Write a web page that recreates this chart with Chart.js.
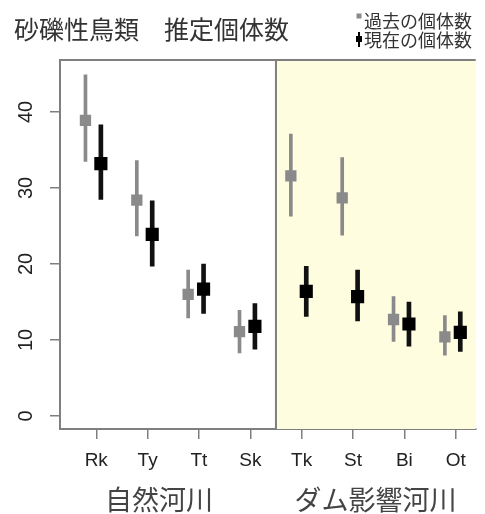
<!DOCTYPE html>
<html>
<head>
<meta charset="utf-8">
<script src="https://cdn.jsdelivr.net/npm/chart.js@4"></script>
<style>
html,body{margin:0;padding:0;background:#fff;}
#wrap{width:485px;height:514px;position:relative;}
</style>
</head>
<body>
<div id="wrap"><canvas id="c" width="485" height="514"></canvas></div>
<script>
const titleText = '砂礫性鳥類　推定個体数';
const categories = ['Rk','Ty','Tt','Sk','Tk','St','Bi','Ot'];
const groupLabels = ['自然河川','ダム影響河川'];
const legendLabels = ['過去の個体数','現在の個体数'];
const pastMean = [38.9, 28.4, 16.0, 11.1, 31.6, 28.7, 12.7, 10.4];
const pastLow  = [33.5, 23.7, 12.9,  8.3, 26.3, 23.8,  9.8,  8.0];
const pastHigh = [44.9, 33.6, 19.2, 13.9, 37.1, 34.0, 15.7, 13.2];
const nowMean  = [33.2, 23.9, 16.7, 11.8, 16.4, 15.7, 12.1, 11.0];
const nowLow   = [28.5, 19.7, 13.5,  8.8, 13.1, 12.5,  9.2,  8.5];
const nowHigh  = [38.3, 28.3, 20.0, 14.8, 19.7, 19.2, 15.0, 13.7];
const yTicks = [0, 10, 20, 30, 40];

const PAST_OFF = -0.21, NOW_OFF = 0.09;
const GRAY = '#8a8a8a', BLACK = '#000000', AXIS = '#7f7f7f';
const CJK = '"Noto Sans CJK JP", "Noto Sans", sans-serif';
const LAT = '"Liberation Sans", Arial, sans-serif';

const pastBars = categories.map((c,i)=>({x:i+1+PAST_OFF, y:[pastLow[i], pastHigh[i]]}));
const nowBars  = categories.map((c,i)=>({x:i+1+NOW_OFF,  y:[nowLow[i], nowHigh[i]]}));
const pastPts  = categories.map((c,i)=>({x:i+1+PAST_OFF, y:pastMean[i]}));
const nowPts   = categories.map((c,i)=>({x:i+1+NOW_OFF,  y:nowMean[i]}));

const decor = {
  id:'decor',
  beforeDatasetsDraw(chart){
    const {ctx, chartArea:a, scales:{x}} = chart;
    const xd = x.getPixelForValue(4.5);
    ctx.save();
    ctx.fillStyle = '#fffde0';
    ctx.fillRect(xd, a.top, a.right - xd, a.bottom - a.top);
    ctx.strokeStyle = AXIS; ctx.lineWidth = 2;
    ctx.beginPath();
    ctx.moveTo(a.left, a.top); ctx.lineTo(a.right, a.top);
    ctx.moveTo(xd, a.top); ctx.lineTo(xd, a.bottom);
    ctx.stroke();
    ctx.restore();
  },
  afterDraw(chart){
    const {ctx, scales:{x}} = chart;
    ctx.save();
    ctx.textBaseline = 'middle';
    ctx.fillStyle = '#333';
    ctx.font = '25px ' + CJK;
    ctx.textAlign = 'left';
    ctx.fillText(titleText, 14, 29);
    // legend
    ctx.font = '18px ' + CJK;
    ctx.fillText(legendLabels[0], 364, 21);
    ctx.fillText(legendLabels[1], 364, 40);
    ctx.fillStyle = GRAY;
    ctx.fillRect(356.5, 13.5, 5, 5);
    ctx.fillStyle = BLACK;
    ctx.fillRect(356, 36, 6, 6);
    ctx.fillRect(358, 32, 2, 15);
    // group labels
    ctx.fillStyle = '#444';
    ctx.font = '27px ' + CJK;
    ctx.textAlign = 'center';
    ctx.fillText(groupLabels[0], x.getPixelForValue(2.22), 500);
    ctx.fillText(groupLabels[1], x.getPixelForValue(6.44), 500);
    ctx.restore();
  }
};

new Chart(document.getElementById('c'), {
  type: 'scatter',
  data: {
    datasets: [
      {type:'bar', data:pastBars, backgroundColor:GRAY, barThickness:3, grouped:false, borderWidth:0, order:4},
      {type:'scatter', data:pastPts, pointStyle:'rect', pointRadius:8, backgroundColor:GRAY, borderWidth:0, order:3},
      {type:'bar', data:nowBars, backgroundColor:'#111', barThickness:4, grouped:false, borderWidth:0, order:2},
      {type:'scatter', data:nowPts, pointStyle:'rect', pointRadius:9.3, backgroundColor:BLACK, borderWidth:0, order:1}
    ]
  },
  options: {
    responsive:false,
    animation:false,
    devicePixelRatio:1,
    layout:{padding:{top:60, right:4, left:0, bottom:0}},
    plugins:{legend:{display:false}, tooltip:{enabled:false}},
    scales:{
      x:{
        type:'linear', min:0.294, max:8.39, offset:false,
        afterBuildTicks(s){ s.ticks = categories.map((c,i)=>({value:i+1})); },
        afterFit(s){ s.height = 85; },
        ticks:{autoSkip:false, maxRotation:0, minRotation:0, padding:10, color:'#222',
               font:{family:LAT, size:19},
               callback:(v)=>categories[Math.round(v)-1]},
        grid:{offset:false, drawOnChartArea:false, drawTicks:true, tickLength:10, color:AXIS, lineWidth:1.5},
        border:{display:true, color:AXIS, width:2}
      },
      y:{
        type:'linear', min:-1.71, max:46.84, beginAtZero:false,
        afterBuildTicks(s){ s.ticks = yTicks.map(v=>({value:v})); },
        afterFit(s){ s.width = 60; },
        ticks:{minRotation:90, maxRotation:90, crossAlign:'center', padding:12, color:'#222',
               font:{family:LAT, size:20},
               callback:(v)=>String(v)},
        grid:{drawOnChartArea:false, drawTicks:true, tickLength:10, color:AXIS, lineWidth:1.5},
        border:{display:true, color:AXIS, width:2}
      }
    }
  },
  plugins:[decor]
});
</script>
</body>
</html>
